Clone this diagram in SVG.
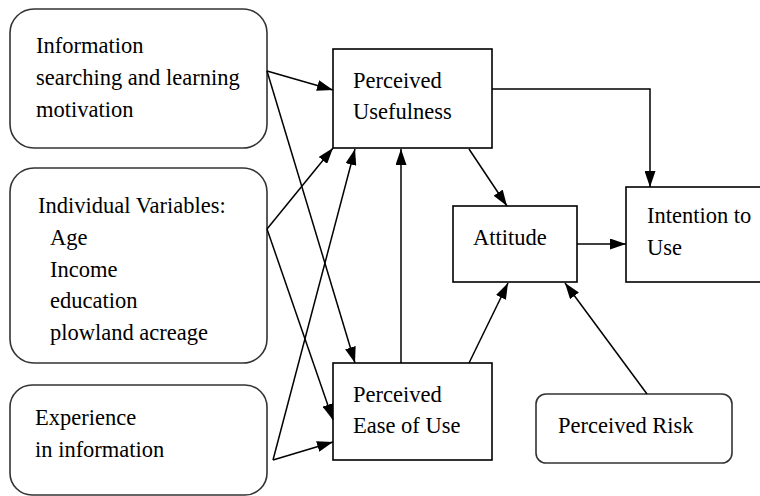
<svg xmlns="http://www.w3.org/2000/svg" width="760" height="496" viewBox="0 0 760 496">
<style>
.rb{fill:#fff;stroke:#333;stroke-width:1.6}
.bx{fill:#fff;stroke:#000;stroke-width:1.6}
.t{font-family:'Liberation Serif','Times New Roman',serif;font-size:22.5px;fill:#000}
.c line,.c polyline{fill:none;stroke:#000;stroke-width:1.5}
</style>
<defs>
<marker id="ah" markerWidth="16" markerHeight="11" refX="16" refY="5.5" orient="auto" markerUnits="userSpaceOnUse">
<path d="M0,0 L16,5.5 L0,11 Z" fill="#000"/>
</marker>
</defs>
<rect width="760" height="496" fill="#fff"/>
<g id="n-info">
<rect class="rb" x="10" y="9" width="257" height="139" rx="24"/>
<text class="t" x="36" y="53">Information</text>
<text class="t" x="36" y="85">searching and learning</text>
<text class="t" x="36" y="117">motivation</text>
</g>
<g id="n-indiv">
<rect class="rb" x="10" y="168" width="257" height="195" rx="24"/>
<text class="t" x="38" y="213">Individual Variables:</text>
<text class="t" x="50" y="245">Age</text>
<text class="t" x="50" y="277">Income</text>
<text class="t" x="50" y="308">education</text>
<text class="t" x="50" y="340">plowland acreage</text>
</g>
<g id="n-exp">
<rect class="rb" x="10" y="385" width="257" height="110" rx="22"/>
<text class="t" x="35" y="425">Experience</text>
<text class="t" x="35" y="457">in information</text>
</g>
<g id="n-pu">
<rect class="bx" x="333" y="49" width="159" height="99"/>
<text class="t" x="353" y="88">Perceived</text>
<text class="t" x="353" y="119">Usefulness</text>
</g>
<g id="n-peu">
<rect class="bx" x="333" y="363" width="159" height="97"/>
<text class="t" x="353" y="402">Perceived</text>
<text class="t" x="353" y="433">Ease of Use</text>
</g>
<g id="n-att">
<rect class="bx" x="453" y="206" width="124" height="76"/>
<text class="t" x="473" y="245">Attitude</text>
</g>
<g id="n-int">
<rect class="bx" x="626" y="187" width="140" height="95"/>
<text class="t" x="647" y="223">Intention to</text>
<text class="t" x="647" y="255">Use</text>
</g>
<g id="n-risk">
<rect class="rb" x="536" y="394" width="196" height="69" rx="10"/>
<text class="t" x="558" y="433">Perceived Risk</text>
</g>
<g class="c" id="connectors">
<line x1="267" y1="71" x2="333" y2="90" marker-end="url(#ah)"/>
<line x1="267" y1="71" x2="355" y2="363" marker-end="url(#ah)"/>
<line x1="267" y1="229" x2="333" y2="148" marker-end="url(#ah)"/>
<line x1="267" y1="229" x2="333" y2="420" marker-end="url(#ah)"/>
<line x1="273" y1="460" x2="355" y2="149" marker-end="url(#ah)"/>
<line x1="273" y1="460" x2="333" y2="442" marker-end="url(#ah)"/>
<line x1="401" y1="363" x2="401" y2="149" marker-end="url(#ah)"/>
<polyline points="492,89 650,89 650,187" marker-end="url(#ah)"/>
<line x1="469" y1="149" x2="507" y2="206" marker-end="url(#ah)"/>
<line x1="577" y1="244" x2="626" y2="244" marker-end="url(#ah)"/>
<line x1="469" y1="363" x2="508" y2="283" marker-end="url(#ah)"/>
<line x1="647" y1="394" x2="565" y2="283" marker-end="url(#ah)"/>
</g>
</svg>
